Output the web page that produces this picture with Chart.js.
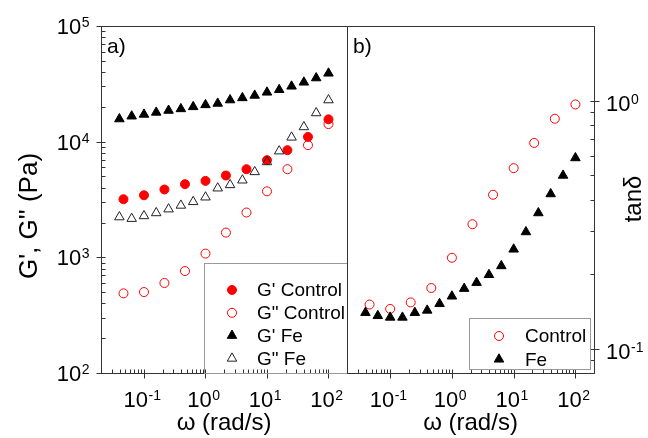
<!DOCTYPE html>
<html>
<head>
<meta charset="utf-8">
<script src="https://cdn.jsdelivr.net/npm/chart.js@4.4.0/dist/chart.umd.min.js"></script>
<style>
  html, body { margin: 0; padding: 0; background: #fff; }
  #wrap { position: relative; width: 648px; height: 438px; }
  canvas { position: absolute; left: 0; top: 0; }
</style>
</head>
<body>
<div id="wrap">
  <canvas id="modulus" width="648" height="438"></canvas>
  <canvas id="tand" width="648" height="438"></canvas>
</div>
<script>
// frequency (rad/s)
const wControl = [0.0464, 0.1, 0.215, 0.464, 1, 2.15, 4.64, 10, 21.5, 46.4, 100];
const wFe = [0.0398, 0.0631, 0.1, 0.158, 0.251, 0.398, 0.631, 1, 1.58, 2.51, 3.98, 6.31, 10, 15.8, 25.1, 39.8, 63.1, 100];

// moduli (Pa)
const gpControl = [3180, 3440, 3860, 4290, 4580, 5100, 5780, 6920, 8440, 11000, 15600];
const gppControl = [488, 501, 600, 761, 1077, 1636, 2440, 3720, 5780, 9330, 14200];
const gpFe = [15700, 16600, 17200, 17900, 18600, 19200, 20000, 20800, 21400, 22900, 23900, 25100, 26700, 28100, 30100, 32600, 35500, 39000];
const gppFe = [2230, 2160, 2280, 2420, 2610, 2810, 3020, 3310, 3960, 4230, 4640, 5480, 6680, 8280, 10900, 13400, 17700, 22900];

// loss tangent
const tanControl = [0.151, 0.145, 0.154, 0.176, 0.233, 0.318, 0.418, 0.535, 0.676, 0.846, 0.966];
const tanFe = [0.140, 0.136, 0.134, 0.134, 0.140, 0.143, 0.152, 0.163, 0.175, 0.185, 0.199, 0.216, 0.252, 0.296, 0.353, 0.421, 0.500, 0.588];

const FONT = '"Liberation Sans", Arial, sans-serif';
const RED = '#ff0000';

const pts = (xs, ys) => xs.map((x, i) => ({ x: x, y: ys[i] }));

function logTicks(min, max) {
  const out = [];
  for (let e = Math.floor(Math.log10(min)); e <= Math.ceil(Math.log10(max)); e++) {
    for (let m = 1; m < 10; m++) {
      const v = m * Math.pow(10, e);
      if (v >= min * 0.999 && v <= max * 1.001) out.push({ v: v, major: m === 1, e: e });
    }
  }
  return out;
}

// "10" with a raised exponent, y = middle of the digits
function powLabel(ctx, e, x, y, align) {
  ctx.font = '22px ' + FONT;
  const wb = ctx.measureText('10').width;
  ctx.font = '14px ' + FONT;
  const ws = ctx.measureText(String(e)).width;
  let left = x - (wb + ws) / 2;
  if (align === 'right') left = x - wb - ws;
  if (align === 'left') left = x;
  ctx.textAlign = 'left';
  ctx.textBaseline = 'alphabetic';
  ctx.font = '22px ' + FONT;
  ctx.fillText('10', left, y + 8);
  ctx.font = '14px ' + FONT;
  ctx.fillText(String(e), left + wb + 0.5, y + 1);
}

function drawMarker(ctx, ds, x, y) {
  ctx.save();
  ctx.fillStyle = ds.pointBackgroundColor;
  ctx.strokeStyle = ds.pointBorderColor;
  ctx.lineWidth = ds.pointBorderWidth;
  Chart.helpers.drawPoint(ctx, {
    pointStyle: ds.pointStyle, radius: ds.pointRadius, borderWidth: ds.pointBorderWidth, rotation: 0
  }, x, y);
  ctx.restore();
}

function framePlugin(cfg) {
  return {
    id: 'frame',
    afterDraw(chart) {
      const { ctx, chartArea: a, scales } = chart;
      const x = scales.x, y = scales.y;
      ctx.save();
      ctx.strokeStyle = '#333';
      ctx.fillStyle = '#000';
      ctx.lineWidth = 1;

      const L = Math.round(a.left) + 0.5, R = Math.round(a.right) + 0.5;
      const T = Math.round(a.top) + 0.5, B = Math.round(a.bottom) + 0.5;
      ctx.beginPath();
      ctx.moveTo(L, T); ctx.lineTo(R, T);
      ctx.moveTo(L, B); ctx.lineTo(R, B);
      ctx.moveTo(L, T); ctx.lineTo(L, B);
      ctx.moveTo(R, T); ctx.lineTo(R, B);
      ctx.stroke();

      // bottom ticks
      ctx.beginPath();
      logTicks(x.min, x.max).forEach(t => {
        const px = Math.round(x.getPixelForValue(t.v)) + 0.5;
        ctx.moveTo(px, B - 4);
        ctx.lineTo(px, t.major ? B + 5 : B);
      });
      // y ticks on one side
      const x0 = cfg.ySide === 'left' ? L : R;
      const dir = cfg.ySide === 'left' ? 1 : -1;
      logTicks(y.min, y.max).forEach(t => {
        const py = Math.round(y.getPixelForValue(t.v)) + 0.5;
        ctx.moveTo(t.major ? x0 - dir * 5 : x0, py);
        ctx.lineTo(x0 + dir * 4, py);
      });
      ctx.stroke();

      logTicks(x.min, x.max).filter(t => t.major).forEach(t => {
        powLabel(ctx, t.e, x.getPixelForValue(t.v) - 2, 399, 'center');
      });
      logTicks(y.min, y.max).filter(t => t.major).forEach(t => {
        const py = y.getPixelForValue(t.v);
        if (cfg.ySide === 'left') powLabel(ctx, t.e, a.left - 12, py, 'right');
        else powLabel(ctx, t.e, a.right + 12, py + 2, 'left');
      });

      // axis titles
      ctx.textAlign = 'center';
      ctx.textBaseline = 'middle';
      ctx.font = '24px ' + FONT;
      ctx.fillText('\u03c9 (rad/s)', (a.left + a.right) / 2, 423);
      ctx.save();
      ctx.translate(cfg.yTitleX, cfg.yTitleY);
      ctx.rotate(-Math.PI / 2);
      ctx.font = cfg.yTitleFont + 'px ' + FONT;
      ctx.fillText(cfg.yTitle, 0, 0);
      ctx.restore();

      // panel letter
      ctx.textAlign = 'left';
      ctx.textBaseline = 'alphabetic';
      ctx.font = '21px ' + FONT;
      ctx.fillText(cfg.letter, a.left + 6, 53);

      // legend
      const lg = cfg.legend;
      ctx.strokeStyle = '#999';
      ctx.strokeRect(lg.box[0] + 0.5, lg.box[1] + 0.5, lg.box[2], lg.box[3]);
      ctx.font = '19px ' + FONT;
      ctx.textBaseline = 'middle';
      chart.data.datasets.forEach((ds, i) => {
        const ly = lg.y0 + i * lg.dy;
        drawMarker(ctx, ds, lg.mx, ly);
        ctx.fillStyle = '#000';
        ctx.fillText(ds.label, lg.tx, ly + 1);
      });
      ctx.restore();
    }
  };
}

function baseOptions(pad, ymin, ymax) {
  return {
    responsive: false,
    animation: false,
    events: [],
    layout: { padding: pad },
    plugins: { legend: { display: false }, tooltip: { enabled: false } },
    scales: {
      x: { type: 'logarithmic', min: 0.02, max: 200, display: false },
      y: { type: 'logarithmic', min: ymin, max: ymax, display: false }
    }
  };
}

const openCircle = {
  pointStyle: 'circle', pointRadius: 4.5, pointBackgroundColor: 'rgba(0,0,0,0)',
  pointBorderColor: RED, pointBorderWidth: 1, showLine: false
};
const fillCircle = {
  pointStyle: 'circle', pointRadius: 4.5, pointBackgroundColor: RED,
  pointBorderColor: RED, pointBorderWidth: 1, showLine: false
};
const fillTri = {
  pointStyle: 'triangle', pointRadius: 5.5, pointBackgroundColor: '#000',
  pointBorderColor: '#000', pointBorderWidth: 1, showLine: false
};
const openTri = {
  pointStyle: 'triangle', pointRadius: 5.5, pointBackgroundColor: 'rgba(0,0,0,0)',
  pointBorderColor: '#222', pointBorderWidth: 1, showLine: false
};

new Chart(document.getElementById('modulus'), {
  type: 'scatter',
  data: {
    datasets: [
      Object.assign({ label: "G' Control", data: pts(wControl, gpControl), order: 4 }, fillCircle),
      Object.assign({ label: 'G" Control', data: pts(wControl, gppControl), order: 3 }, openCircle),
      Object.assign({ label: "G' Fe", data: pts(wFe, gpFe), order: 2 }, fillTri),
      Object.assign({ label: 'G" Fe', data: pts(wFe, gppFe), order: 1 }, openTri)
    ]
  },
  options: baseOptions({ left: 101, right: 301, top: 26, bottom: 65 }, 100, 100000),
  plugins: [framePlugin({
    ySide: 'left', yTitle: "G', G'' (Pa)", yTitleX: 30, yTitleY: 216, yTitleFont: 26, letter: 'a)',
    legend: { box: [204, 263, 143, 110], mx: 232, tx: 257, y0: 290, dy: 22.8 }
  })]
});

new Chart(document.getElementById('tand'), {
  type: 'scatter',
  data: {
    datasets: [
      Object.assign({ label: 'Control', data: pts(wControl, tanControl), order: 2 }, openCircle),
      Object.assign({ label: 'Fe', data: pts(wFe, tanFe), order: 1 }, fillTri)
    ]
  },
  options: baseOptions({ left: 347, right: 54, top: 26, bottom: 65 }, 0.08, 2.0),
  plugins: [framePlugin({
    ySide: 'right', yTitle: 'tan\u03b4', yTitleX: 634, yTitleY: 199, yTitleFont: 24, letter: 'b)',
    legend: { box: [469, 318, 121, 51], mx: 499, tx: 525, y0: 336, dy: 23.3 }
  })]
});
</script>
</body>
</html>
